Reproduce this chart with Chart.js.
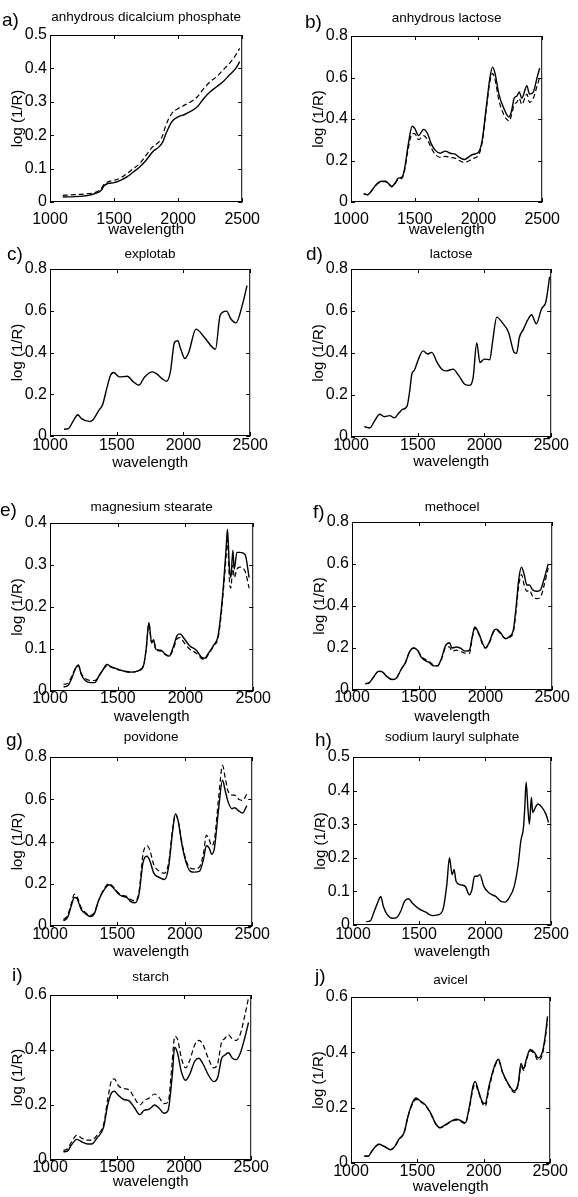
<!DOCTYPE html>
<html>
<head>
<meta charset="utf-8">
<script src="https://cdn.jsdelivr.net/npm/chart.js@4/dist/chart.umd.min.js"></script>
<style>
  body { margin: 0; background: #fff; }
  #page { position: relative; width: 578px; height: 1197px; overflow: hidden; background: #fff; }
  #page canvas { position: absolute; }
  .tag { position: absolute; font: 19px "Liberation Sans", Arial, sans-serif; line-height: 22px; color: #000; }
</style>
</head>
<body>
<div id="page"></div>
<script>
// a) anhydrous dicalcium phosphate
const wlA = [1100,1200,1300,1350,1400,1420,1450,1500,1550,1600,1650,1700,1750,1800,1850,1880,1900,1950,2000,2050,2100,2150,2200,2250,2300,2350,2400,2450,2480];
const solidA = [0.015,0.016,0.02,0.025,0.035,0.048,0.055,0.058,0.065,0.075,0.09,0.105,0.125,0.15,0.165,0.18,0.2,0.24,0.255,0.262,0.272,0.285,0.31,0.33,0.345,0.36,0.38,0.40,0.42];
const dashA = [0.02,0.022,0.025,0.028,0.04,0.052,0.06,0.065,0.072,0.085,0.1,0.115,0.14,0.165,0.18,0.2,0.225,0.265,0.28,0.29,0.3,0.315,0.34,0.36,0.375,0.395,0.415,0.44,0.46];

// b) anhydrous lactose
const wlB = [1100,1130,1150,1200,1240,1270,1300,1320,1350,1370,1400,1420,1450,1480,1500,1530,1570,1600,1630,1660,1700,1740,1780,1820,1850,1890,1930,1960,2000,2030,2060,2090,2110,2130,2160,2200,2240,2260,2280,2300,2320,2340,2380,2400,2430,2460,2480];
const solidB = [0.04,0.035,0.045,0.085,0.10,0.10,0.085,0.075,0.095,0.115,0.12,0.16,0.28,0.365,0.355,0.32,0.35,0.33,0.28,0.25,0.235,0.245,0.235,0.23,0.215,0.205,0.22,0.23,0.24,0.30,0.45,0.6,0.65,0.62,0.52,0.45,0.41,0.44,0.5,0.51,0.53,0.50,0.56,0.52,0.53,0.6,0.645];
const dashB = [0.04,0.035,0.045,0.083,0.098,0.098,0.083,0.073,0.092,0.11,0.115,0.15,0.26,0.33,0.33,0.30,0.32,0.30,0.26,0.23,0.215,0.22,0.215,0.21,0.20,0.19,0.20,0.21,0.225,0.29,0.44,0.58,0.62,0.59,0.49,0.42,0.39,0.42,0.47,0.48,0.50,0.47,0.52,0.48,0.50,0.56,0.60];

// c) explotab
const wlC = [1105,1137,1177,1208,1236,1295,1319,1366,1394,1425,1453,1477,1520,1579,1626,1666,1709,1768,1798,1839,1874,1902,1933,1957,1980,2011,2039,2094,2157,2223,2240,2275,2323,2353,2393,2441,2476];
const lineC = [0.032,0.035,0.075,0.102,0.083,0.07,0.075,0.123,0.15,0.227,0.29,0.304,0.283,0.286,0.259,0.243,0.283,0.307,0.299,0.275,0.262,0.307,0.449,0.456,0.416,0.371,0.40,0.512,0.472,0.421,0.416,0.579,0.598,0.563,0.542,0.627,0.72];

// d) lactose
const wlD = [1100,1140,1180,1215,1250,1290,1325,1360,1385,1420,1440,1456,1475,1505,1540,1575,1605,1645,1680,1715,1765,1810,1855,1885,1915,1942,1966,2000,2040,2060,2092,2130,2180,2222,2240,2262,2293,2322,2353,2388,2428,2460,2488];
const lineD = [0.05,0.043,0.08,0.108,0.097,0.102,0.091,0.115,0.131,0.147,0.22,0.3,0.318,0.37,0.41,0.395,0.403,0.355,0.323,0.315,0.323,0.29,0.25,0.246,0.283,0.448,0.355,0.371,0.368,0.45,0.571,0.547,0.499,0.403,0.398,0.475,0.515,0.555,0.582,0.539,0.611,0.643,0.763];

// e) magnesium stearate
const wlE = [1100,1130,1160,1190,1210,1230,1260,1300,1330,1360,1390,1420,1450,1500,1550,1600,1650,1690,1710,1730,1750,1765,1780,1820,1850,1880,1910,1940,1960,1990,2030,2080,2120,2140,2170,2210,2240,2260,2280,2300,2310,2325,2335,2350,2360,2380,2400,2440,2470];
const solidE = [0.01,0.012,0.03,0.055,0.062,0.04,0.025,0.02,0.02,0.035,0.05,0.063,0.058,0.052,0.047,0.045,0.048,0.06,0.1,0.163,0.115,0.122,0.1,0.097,0.088,0.083,0.105,0.133,0.136,0.125,0.108,0.097,0.08,0.078,0.09,0.11,0.13,0.18,0.25,0.34,0.385,0.29,0.27,0.335,0.29,0.33,0.33,0.325,0.27];
const dashE = [0.016,0.018,0.035,0.055,0.06,0.042,0.03,0.025,0.025,0.035,0.05,0.06,0.057,0.051,0.047,0.045,0.048,0.06,0.1,0.16,0.115,0.12,0.1,0.095,0.087,0.083,0.1,0.125,0.127,0.115,0.1,0.09,0.077,0.075,0.088,0.108,0.125,0.17,0.24,0.32,0.36,0.26,0.245,0.3,0.27,0.29,0.295,0.285,0.245];

// f) methocel
const wlF = [1100,1130,1160,1200,1230,1260,1300,1330,1370,1400,1430,1460,1490,1520,1550,1580,1610,1640,1670,1700,1730,1750,1780,1810,1850,1880,1900,1920,1950,1980,2000,2030,2060,2080,2110,2150,2180,2210,2230,2250,2270,2290,2310,2330,2350,2380,2410,2440,2470];
const solidF = [0.03,0.035,0.06,0.09,0.085,0.065,0.05,0.055,0.1,0.13,0.18,0.2,0.19,0.155,0.14,0.13,0.115,0.115,0.15,0.21,0.225,0.2,0.205,0.2,0.185,0.19,0.25,0.3,0.27,0.22,0.2,0.23,0.28,0.29,0.275,0.245,0.255,0.29,0.4,0.53,0.585,0.55,0.5,0.5,0.48,0.47,0.475,0.53,0.6];
const dashF = [0.03,0.035,0.06,0.088,0.083,0.065,0.05,0.055,0.1,0.13,0.18,0.2,0.19,0.16,0.145,0.135,0.12,0.115,0.145,0.2,0.205,0.185,0.19,0.185,0.175,0.175,0.245,0.295,0.265,0.215,0.2,0.225,0.275,0.285,0.27,0.245,0.25,0.28,0.38,0.5,0.55,0.5,0.47,0.475,0.45,0.435,0.44,0.5,0.58];

// g) povidone
const wlG = [1100,1130,1160,1180,1200,1230,1260,1300,1330,1360,1400,1440,1470,1510,1540,1570,1600,1630,1660,1690,1720,1740,1770,1810,1850,1880,1910,1930,1950,1980,2010,2040,2070,2110,2140,2160,2180,2200,2220,2250,2280,2300,2320,2350,2370,2400,2430,2460];
const solidG = [0.025,0.04,0.1,0.135,0.13,0.08,0.06,0.045,0.06,0.12,0.17,0.195,0.18,0.15,0.14,0.135,0.115,0.11,0.15,0.3,0.33,0.31,0.25,0.23,0.22,0.28,0.45,0.53,0.5,0.38,0.3,0.26,0.255,0.26,0.32,0.38,0.37,0.34,0.37,0.55,0.69,0.64,0.59,0.555,0.56,0.545,0.535,0.57];
const dashG = [0.03,0.05,0.11,0.15,0.14,0.09,0.065,0.05,0.065,0.12,0.175,0.2,0.185,0.155,0.145,0.14,0.125,0.12,0.16,0.34,0.38,0.36,0.29,0.26,0.25,0.3,0.46,0.53,0.5,0.39,0.31,0.275,0.27,0.28,0.35,0.43,0.41,0.38,0.41,0.6,0.76,0.7,0.64,0.62,0.62,0.6,0.595,0.625];

// h) sodium lauryl sulphate
const wlH = [1100,1130,1160,1190,1210,1230,1260,1300,1330,1360,1390,1420,1450,1500,1550,1600,1640,1680,1710,1730,1750,1765,1780,1810,1850,1880,1900,1920,1940,1960,1990,2030,2080,2120,2150,2180,2220,2250,2270,2290,2300,2310,2325,2335,2350,2360,2380,2400,2430,2460,2480];
const lineH = [0.01,0.012,0.04,0.07,0.085,0.055,0.03,0.02,0.022,0.04,0.07,0.078,0.065,0.048,0.038,0.028,0.03,0.045,0.12,0.2,0.15,0.165,0.13,0.12,0.115,0.09,0.105,0.145,0.145,0.15,0.115,0.095,0.085,0.07,0.068,0.08,0.115,0.18,0.25,0.29,0.35,0.425,0.34,0.3,0.38,0.335,0.35,0.36,0.35,0.33,0.305];

// i) starch
const wlI = [1100,1130,1160,1200,1240,1280,1310,1350,1400,1430,1460,1480,1510,1550,1590,1630,1670,1700,1740,1780,1810,1850,1880,1910,1930,1950,1980,2010,2040,2080,2110,2140,2180,2220,2250,2280,2300,2330,2360,2390,2420,2450,2480];
const solidI = [0.03,0.032,0.055,0.075,0.065,0.058,0.058,0.08,0.12,0.2,0.245,0.25,0.235,0.22,0.215,0.19,0.165,0.18,0.185,0.2,0.19,0.17,0.18,0.3,0.41,0.39,0.32,0.29,0.31,0.36,0.37,0.35,0.31,0.285,0.3,0.37,0.38,0.39,0.37,0.365,0.39,0.44,0.5];
const dashI = [0.035,0.04,0.065,0.09,0.078,0.072,0.072,0.09,0.13,0.22,0.29,0.295,0.27,0.26,0.255,0.225,0.2,0.215,0.225,0.24,0.23,0.205,0.21,0.35,0.45,0.44,0.37,0.335,0.36,0.42,0.435,0.42,0.37,0.335,0.35,0.43,0.44,0.455,0.44,0.435,0.46,0.52,0.59];

// j) avicel
const wlJ = [1100,1130,1160,1210,1250,1300,1330,1360,1400,1430,1460,1490,1520,1560,1600,1640,1670,1700,1750,1790,1820,1860,1890,1920,1935,1960,1990,2010,2040,2080,2110,2140,2180,2230,2260,2280,2300,2320,2350,2380,2410,2440,2460,2480];
const solidJ = [0.025,0.025,0.045,0.068,0.06,0.048,0.06,0.085,0.11,0.17,0.215,0.235,0.225,0.21,0.18,0.14,0.128,0.135,0.15,0.158,0.155,0.145,0.2,0.28,0.295,0.26,0.22,0.215,0.28,0.35,0.375,0.33,0.29,0.26,0.29,0.36,0.34,0.375,0.41,0.4,0.38,0.4,0.45,0.53];
const dashJ = [0.025,0.025,0.045,0.067,0.06,0.048,0.06,0.085,0.11,0.17,0.21,0.23,0.222,0.208,0.178,0.14,0.127,0.133,0.148,0.155,0.152,0.142,0.195,0.27,0.285,0.255,0.215,0.205,0.27,0.345,0.37,0.328,0.288,0.255,0.285,0.35,0.335,0.37,0.405,0.395,0.37,0.39,0.44,0.52];

const xTicks = [1000, 1500, 2000, 2500];

// panel layout: plot box [left, top, right, bottom] in page pixels, label offsets
const panels = [
  {tag: 'a)', title: 'anhydrous dicalcium phosphate', wl: wlA, solid: solidA, dashed: dashA, yMax: 0.5, yStep: 0.1,
   box: [50, 35, 262, 202], titleOff: 18, tickOff: 18, xTitleOff: 28, tagAt: [2, 20]},
  {tag: 'b)', title: 'anhydrous lactose', wl: wlB, solid: solidB, dashed: dashB, yMax: 0.8, yStep: 0.2,
   box: [351, 36, 562, 202], titleOff: 18, tickOff: 18, xTitleOff: 28, tagAt: [305, 22]},
  {tag: 'c)', title: 'explotab', wl: wlC, solid: lineC, dashed: null, yMax: 0.8, yStep: 0.2,
   box: [50, 269, 262, 436], titleOff: 15, tickOff: 10, xTitleOff: 27, tagAt: [7, 254]},
  {tag: 'd)', title: 'lactose', wl: wlD, solid: lineD, dashed: null, yMax: 0.8, yStep: 0.2,
   box: [351, 269, 562, 437], titleOff: 15, tickOff: 9, xTitleOff: 25, tagAt: [306, 254]},
  {tag: 'e)', title: 'magnesium stearate', wl: wlE, solid: solidE, dashed: dashE, yMax: 0.4, yStep: 0.1,
   box: [50, 523, 263, 691], titleOff: 16, tickOff: 8, xTitleOff: 26, tagAt: [0, 510]},
  {tag: 'f)', title: 'methocel', wl: wlF, solid: solidF, dashed: dashF, yMax: 0.8, yStep: 0.2,
   box: [352, 522, 562, 690], titleOff: 15, tickOff: 8, xTitleOff: 27, tagAt: [313, 512]},
  {tag: 'g)', title: 'povidone', wl: wlG, solid: solidG, dashed: dashG, yMax: 0.8, yStep: 0.2,
   box: [50, 757, 263, 926], titleOff: 20, tickOff: 9, xTitleOff: 26, tagAt: [6, 740]},
  {tag: 'h)', title: 'sodium lauryl sulphate', wl: wlH, solid: lineH, dashed: null, yMax: 0.5, yStep: 0.1,
   box: [353, 757, 563, 925], titleOff: 20, tickOff: 10, xTitleOff: 27, tagAt: [315, 740]},
  {tag: 'i)', title: 'starch', wl: wlI, solid: solidI, dashed: dashI, yMax: 0.6, yStep: 0.2,
   box: [50, 995, 261, 1160], titleOff: 18, tickOff: 8, xTitleOff: 22, tagAt: [12, 975]},
  {tag: 'j)', title: 'avicel', wl: wlJ, solid: solidJ, dashed: dashJ, yMax: 0.6, yStep: 0.2,
   box: [351, 997, 561, 1163], titleOff: 17, tickOff: 9, xTitleOff: 24, tagAt: [315, 976]}
];

const FONT = '"Liberation Sans", Arial, Helvetica, sans-serif';

// box around the plot with small inward ticks, like the matlab axes
const framePlugin = {
  id: 'frame',
  afterDraw(chart) {
    const {ctx, chartArea: a, scales} = chart;
    ctx.save();
    ctx.strokeStyle = '#000';
    ctx.lineWidth = 1;
    ctx.strokeRect(a.left + 0.5, a.top + 0.5, a.width - 1, a.height - 1);
    ctx.beginPath();
    scales.x.ticks.forEach(t => {
      const px = Math.round(scales.x.getPixelForValue(t.value)) + 0.5;
      ctx.moveTo(px, a.bottom); ctx.lineTo(px, a.bottom - 4);
      ctx.moveTo(px, a.top); ctx.lineTo(px, a.top + 4);
    });
    scales.y.ticks.forEach(t => {
      const py = Math.round(scales.y.getPixelForValue(t.value)) + 0.5;
      ctx.moveTo(a.left, py); ctx.lineTo(a.left + 4, py);
      ctx.moveTo(a.right, py); ctx.lineTo(a.right - 4, py);
    });
    ctx.stroke();
    ctx.restore();
  }
};

const page = document.getElementById('page');

panels.forEach(function(p) {
  const [left, top, right, bottom] = p.box;
  const yAxisW = 50, rightPad = 8, titleBlock = 28;
  const xAxisH = p.xTitleOff + 9;
  const canvas = document.createElement('canvas');
  canvas.width = (right - left) + yAxisW + rightPad;
  canvas.height = titleBlock + (bottom - top) + xAxisH;
  canvas.style.left = (left - yAxisW) + 'px';
  canvas.style.top = (top - titleBlock) + 'px';
  page.appendChild(canvas);

  const tag = document.createElement('div');
  tag.className = 'tag';
  tag.textContent = p.tag;
  tag.style.left = p.tagAt[0] + 'px';
  tag.style.top = (p.tagAt[1] - 11) + 'px';
  page.appendChild(tag);

  const datasets = [{
    data: p.wl.map((w, i) => ({x: w, y: p.solid[i]})),
    borderColor: '#000',
    borderWidth: 1.4,
    pointRadius: 0,
    cubicInterpolationMode: 'monotone'
  }];
  if (p.dashed) {
    datasets.push({
      data: p.wl.map((w, i) => ({x: w, y: p.dashed[i]})),
      borderColor: '#000',
      borderWidth: 1.2,
      borderDash: [5, 3],
      pointRadius: 0,
      cubicInterpolationMode: 'monotone'
    });
  }

  const titlePadTop = Math.max(0, 19.9 - p.titleOff);

  new Chart(canvas, {
    type: 'line',
    data: {datasets: datasets},
    plugins: [framePlugin],
    options: {
      responsive: false,
      devicePixelRatio: 1,
      animation: false,
      layout: {padding: {left: 0, right: rightPad, top: 0, bottom: 0}},
      plugins: {
        legend: {display: false},
        tooltip: {enabled: false},
        title: {
          display: true,
          text: p.title,
          color: '#000',
          fullSize: false,
          font: {family: FONT, size: 13.5, lineHeight: 1.2, weight: 'normal'},
          padding: {top: titlePadTop, bottom: titleBlock - 16.2 - titlePadTop}
        }
      },
      scales: {
        x: {
          type: 'linear',
          min: 1000,
          max: 2500,
          afterBuildTicks: axis => { axis.ticks = xTicks.map(v => ({value: v})); },
          afterFit: axis => { axis.height = xAxisH; },
          grid: {display: false, drawTicks: false},
          border: {display: false},
          ticks: {
            color: '#000',
            padding: Math.max(0, p.tickOff - 8),
            maxRotation: 0,
            font: {family: FONT, size: 16, lineHeight: 1},
            callback: v => String(v)
          },
          title: {
            display: true,
            text: 'wavelength',
            color: '#000',
            padding: 0,
            font: {family: FONT, size: 15, lineHeight: 1.2}
          }
        },
        y: {
          min: 0,
          max: p.yMax,
          afterFit: axis => { axis.width = yAxisW; },
          grid: {display: false, drawTicks: false},
          border: {display: false},
          ticks: {
            color: '#000',
            stepSize: p.yStep,
            padding: 3,
            font: {family: FONT, size: 16, lineHeight: 1}
          },
          title: {
            display: true,
            text: 'log (1/R)',
            color: '#000',
            padding: {top: 9, bottom: 0},
            font: {family: FONT, size: 15, lineHeight: 1.2}
          }
        }
      }
    }
  });
});
</script>
</body>
</html>
